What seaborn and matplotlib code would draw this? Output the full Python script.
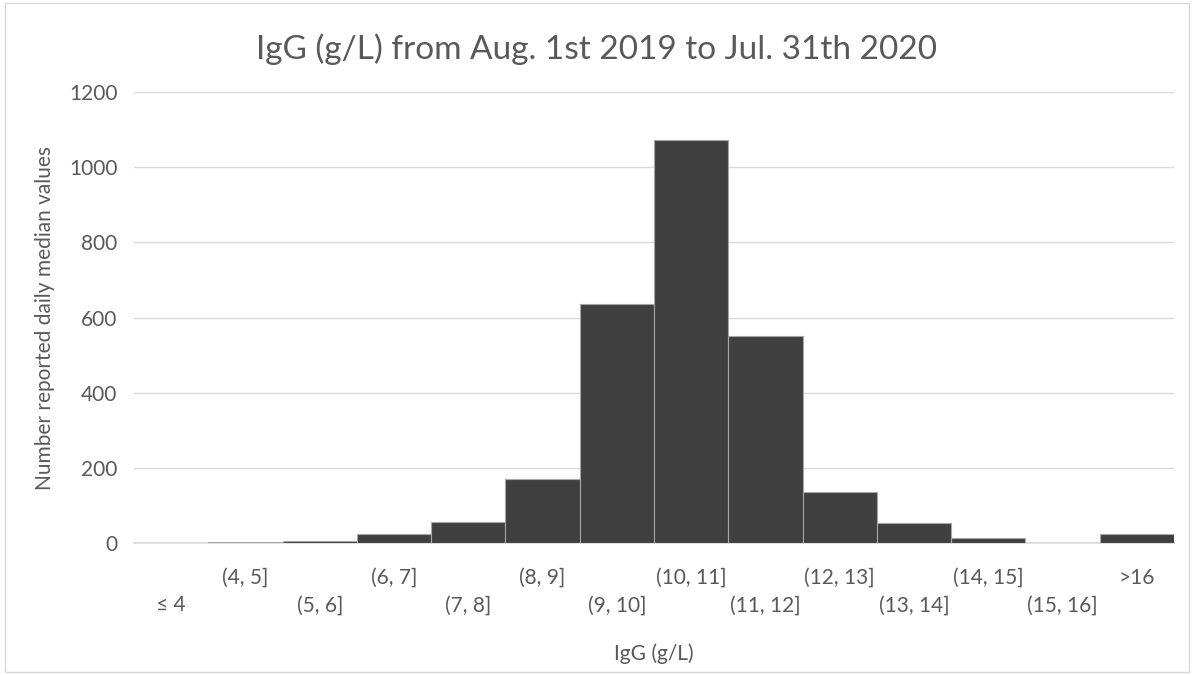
import matplotlib
matplotlib.use("Agg")
import matplotlib.pyplot as plt
import seaborn as sns
import pandas as pd

categories = ["≤ 4", "(4, 5]", "(5, 6]", "(6, 7]", "(7, 8]", "(8, 9]", "(9, 10]",
              "(10, 11]", "(11, 12]", "(12, 13]", "(13, 14]", "(14, 15]", "(15, 16]", ">16"]
counts = [0, 3, 6, 25, 56, 170, 636, 1072, 551, 136, 54, 12, 0, 24]

df = pd.DataFrame({"bin": categories, "count": counts})

sns.set_style("white")
plt.rcParams["font.family"] = ["Lato", "DejaVu Sans"]
grey = "#595959"

fig = plt.figure(figsize=(11.94, 6.75), dpi=100)
ax = fig.add_axes([134 / 1194, 1 - 543 / 675, (1174 - 134) / 1194, (543 - 92) / 675])

sns.barplot(data=df, x="bin", y="count", ax=ax, color="#404040", width=1.0,
            saturation=1, edgecolor="#a6a6a6", linewidth=0.8, zorder=3)

ax.set_ylim(0, 1200)
ax.set_yticks(range(0, 1201, 200))
ax.set_xlim(-0.5, len(categories) - 0.5)
ax.grid(axis="y", color="#d9d9d9", linewidth=1, zorder=0)
for s in ["left", "right", "top"]:
    ax.spines[s].set_visible(False)
ax.spines["bottom"].set_color("#d9d9d9")
ax.spines["bottom"].set_linewidth(1.2)

labels = [("\n" + c) if i % 2 == 0 else (c + "\n") for i, c in enumerate(categories)]
ax.set_xticks(range(len(categories)))
ax.set_xticklabels(labels, fontsize=15, color=grey, linespacing=1.45)
ax.tick_params(axis="x", length=0, pad=18)
ax.tick_params(axis="y", length=0, pad=12, labelsize=15, labelcolor=grey)

ax.set_xlabel("IgG (g/L)", fontsize=15, color=grey, labelpad=20)
ax.set_ylabel("Number reported daily median values", fontsize=15, color=grey, labelpad=10)
fig.suptitle("IgG (g/L) from Aug. 1st 2019 to Jul. 31th 2020", fontsize=24, color=grey, y=0.95)

border = plt.Rectangle((0.004, 0.004), 0.992, 0.992, transform=fig.transFigure,
                       fill=False, edgecolor="#d9d9d9", linewidth=1)
fig.patches.append(border)

fig.savefig("out.png", dpi=100)
